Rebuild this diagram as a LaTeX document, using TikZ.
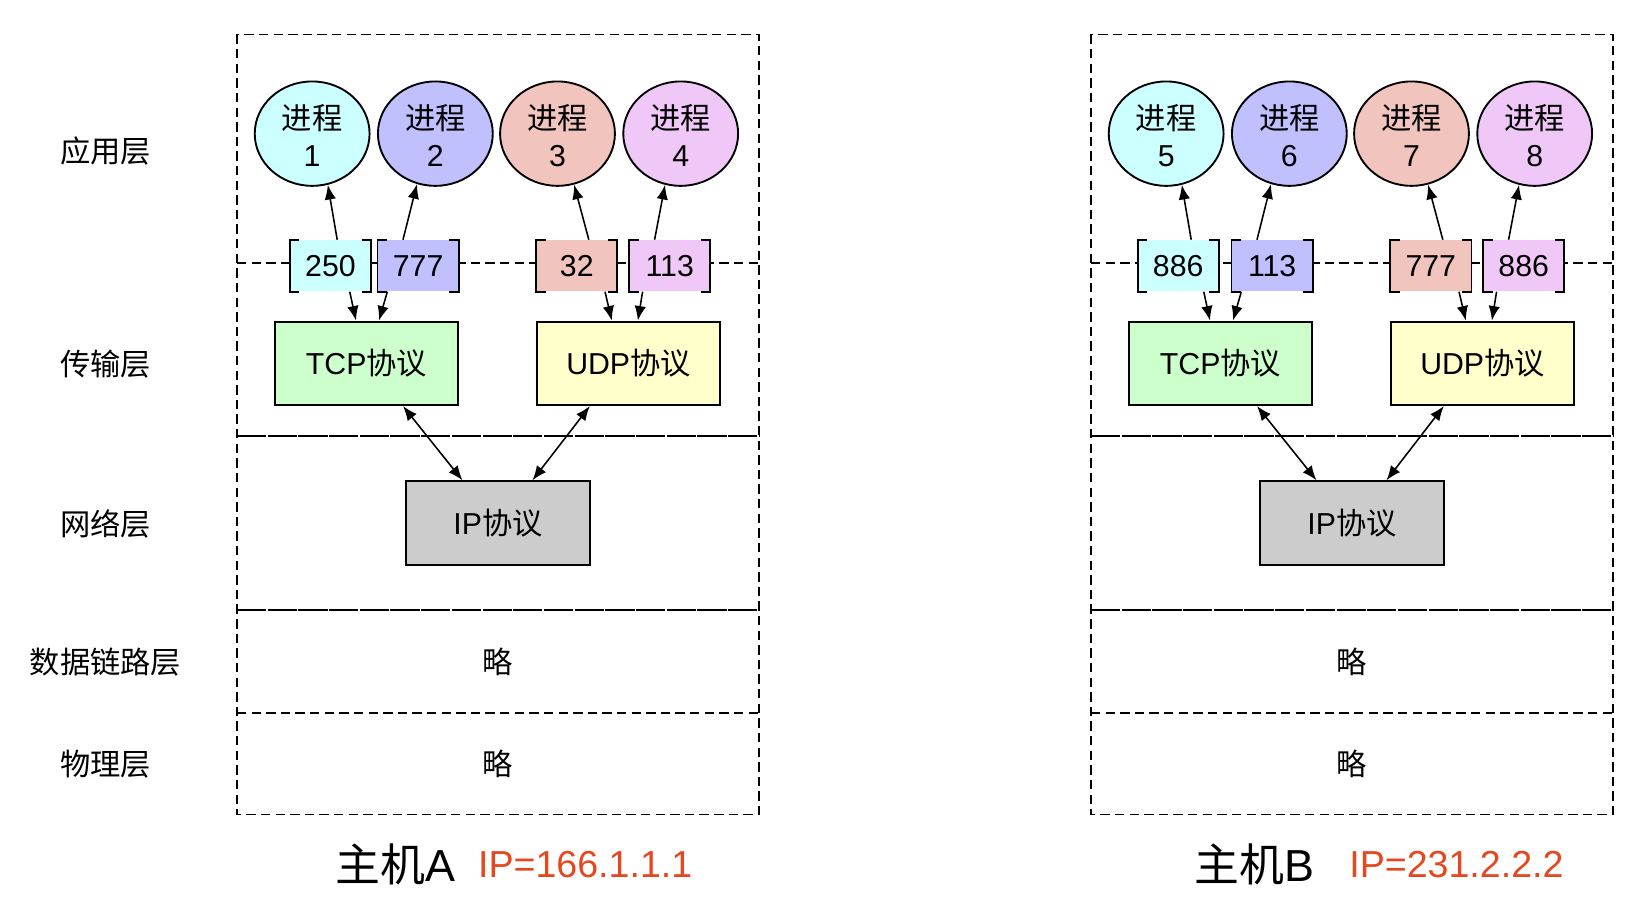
\documentclass[tikz,border=0pt]{standalone}
\usepackage{fontspec}
\setmainfont{Liberation Sans}
\newfontfamily\cjk{Noto Sans CJK SC}
\usetikzlibrary{shapes.geometric,arrows.meta,calc}
\definecolor{cA}{HTML}{CCFFFF}
\definecolor{cB}{HTML}{C0C0FF}
\definecolor{cC}{HTML}{F2C4BE}
\definecolor{cD}{HTML}{F0C8F8}
\definecolor{tcpc}{HTML}{CCFFCC}
\definecolor{udpc}{HTML}{FFFFCC}
\definecolor{ipc}{HTML}{CCCCCC}
\definecolor{ipred}{HTML}{E5471F}
\tikzset{
 proc/.style={ellipse, draw, line width=0.9pt, minimum width=55pt, minimum height=50pt, inner sep=0pt, align=center, font=\fontsize{14.5}{18.5}\selectfont},
 port/.style={rectangle, minimum width=38.5pt, minimum height=24.5pt, inner sep=0pt, font=\fontsize{14.5}{17}\selectfont},
 brk/.style={line width=0.9pt},
 proto/.style={rectangle, draw, line width=0.9pt, minimum width=88pt, minimum height=40pt, inner sep=0pt, font=\fontsize{14.5}{17}\selectfont},
 arr/.style={-{Latex[length=7pt,width=5.5pt]}, line width=0.75pt},
 darr/.style={{Latex[length=7pt,width=5.5pt]}-{Latex[length=7pt,width=5.5pt]}, line width=0.75pt},
 frame/.style={dash pattern=on 4.5pt off 2.5pt, line width=0.8pt},
 solidish/.style={dash pattern=on 14pt off 0.7pt, line width=0.9pt},
 lbl/.style={font=\cjk\fontsize{14.5}{17}\selectfont},
}
\newcommand\brackets[1]{%
 \draw[brk] ([xshift=4.5pt]#1.north west) -- (#1.north west) -- (#1.south west) -- ++(4.5pt,0);
 \draw[brk] ([xshift=-4.5pt]#1.north east) -- (#1.north east) -- (#1.south east) -- ++(-4.5pt,0);
}
\newcommand\proctext[1]{\raisebox{-1pt}[\height][\depth]{\shortstack{{\cjk 进程}\\[3.5pt]#1}}}
\newcommand\hostbody[9]{%
 \draw[frame] (227,33) rectangle (727,780);
 \draw[frame] (227,252) -- (727,252);
 \draw[solidish] (227,418) -- (727,418);
 \draw[solidish] (227,584) -- (727,584);
 \draw[frame] (227,683) -- (727,683);
 \node[proc, fill=cA] (proc1) at (299,128) {\proctext{#1}};
 \node[proc, fill=cB] (proc2) at (417,128) {\proctext{#2}};
 \node[proc, fill=cC] (proc3) at (534,128) {\proctext{#3}};
 \node[proc, fill=cD] (proc4) at (652,128) {\proctext{#4}};
 \node[port, fill=cA] (port1) at (316.5+2*#9,254.5) {#5};
 \node[port, fill=cB] (port2) at (400.5,254.5) {#6};
 \node[port, fill=cC] (port3) at (552.5,254.5) {#7};
 \node[port, fill=cD] (port4) at (641.5,254.5) {#8};
 \brackets{port1}\brackets{port2}\brackets{port3}\brackets{port4}
 \node[proto, fill=tcpc] (tcp) at (351,348) {TCP{\cjk 协议}};
 \node[proto, fill=udpc] (udp) at (602,348) {UDP{\cjk 协议}};
 \node[proto, fill=ipc] (ip) at (477,501) {IP{\cjk 协议}};
 \node[lbl] (dl) at (477,634) {略};
 \node[lbl] (ph) at (477,732) {略};
 \draw[arr] ([xshift=3.25pt-(#9pt)]port1.north) -- (proc1.-73);
 \draw[arr] ([xshift=-7.25pt]port2.north) -- (proc2.-110);
 \draw[arr] ([xshift=5.75pt]port3.north) -- (proc3.-72);
 \draw[arr] ([xshift=-7.25pt]port4.north) -- (proc4.-107);
 \draw[arr] ([xshift=9.25pt-(#9pt)]port1.south) -- ([xshift=-5pt]tcp.north);
 \draw[arr] ([xshift=-14.75pt]port2.south) -- ([xshift=6pt]tcp.north);
 \draw[arr] ([xshift=13.5pt]port3.south) -- ([xshift=-8pt]udp.north);
 \draw[arr] ([xshift=-13pt]port4.south) -- ([xshift=4.5pt]udp.north);
 \draw[darr] ([xshift=17.5pt]tcp.south) -- ([xshift=-17pt]ip.north);
 \draw[darr] ([xshift=-18.5pt]udp.south) -- ([xshift=16.5pt]ip.north);
}
\begin{document}
\begin{tikzpicture}[x=0.5pt,y=-0.5pt]
\useasboundingbox (0,0) rectangle (1568,875);
\node[lbl] (l1) at (101,145) {应用层};
\node[lbl] (l2) at (101,349) {传输层};
\node[lbl] (l3) at (101,502) {网络层};
\node[lbl] (l4) at (101,634) {数据链路层};
\node[lbl] (l5) at (101,732) {物理层};
\begin{scope}[name prefix=A-]
 \hostbody{1}{2}{3}{4}{250}{777}{32}{113}{0}
\end{scope}
\begin{scope}[shift={(818,0)}, name prefix=B-]
 \hostbody{5}{6}{7}{8}{886}{113}{777}{886}{-3}
\end{scope}
\node[font=\cjk\fontsize{21.5}{24}\selectfont] (hostA) at (378.5,828) {主机{\rmfamily A}};
\node[text=ipred, font=\fontsize{18}{22}\selectfont] (ipA) at (560.5,828) {IP=166.1.1.1};
\node[font=\cjk\fontsize{21.5}{24}\selectfont] (hostB) at (1201.5,828) {主机{\rmfamily B}};
\node[text=ipred, font=\fontsize{18}{22}\selectfont] (ipB) at (1395,828) {IP=231.2.2.2};
\end{tikzpicture}
\end{document}
